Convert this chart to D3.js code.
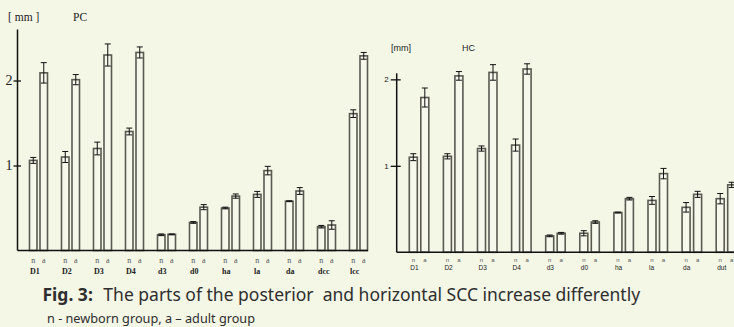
<!DOCTYPE html>
<html>
<head>
<meta charset="utf-8">
<script src="https://cdn.jsdelivr.net/npm/d3@7"></script>
<style>
  html, body { margin: 0; padding: 0; background: #f4f6e6; }
  svg { display: block; }
</style>
</head>
<body>
<div id="chart"></div>
<script>
// PC (posterior canal) values, mm
const pcGroups = ["D1", "D2", "D3", "D4", "d3", "d0", "ha", "la", "da", "dcc", "lcc"];
const pcNewborn = [1.06, 1.10, 1.20, 1.40, 0.185, 0.33, 0.50, 0.66, 0.58, 0.28, 1.61];
const pcNewbornErr = [0.035, 0.065, 0.075, 0.04, 0.01, 0.01, 0.01, 0.035, 0.005, 0.015, 0.045];
const pcAdult = [2.09, 2.01, 2.30, 2.33, 0.19, 0.51, 0.64, 0.94, 0.70, 0.30, 2.29];
const pcAdultErr = [0.12, 0.06, 0.13, 0.065, 0.005, 0.03, 0.025, 0.05, 0.04, 0.05, 0.04];

// HC (horizontal canal) values, mm
const hcGroups = ["D1", "D2", "D3", "D4", "d3", "d0", "ha", "la", "da", "dut"];
const hcNewborn = [1.10, 1.11, 1.20, 1.24, 0.19, 0.22, 0.46, 0.60, 0.52, 0.62];
const hcNewbornErr = [0.04, 0.03, 0.03, 0.07, 0.01, 0.03, 0.005, 0.045, 0.055, 0.06];
const hcAdult = [1.79, 2.04, 2.08, 2.12, 0.22, 0.35, 0.62, 0.91, 0.67, 0.78];
const hcAdultErr = [0.11, 0.05, 0.09, 0.06, 0.01, 0.015, 0.015, 0.06, 0.035, 0.03];

const yTicks = [1, 2];
const subLabels = ["n", "a"];

const W = 734, H = 327;
const svg = d3.select("#chart").append("svg").attr("width", W).attr("height", H);

function drawPanel(cfg) {
  const g = svg.append("g");
  const x = d3.scaleBand().domain(cfg.groups).range(cfg.xRange).paddingInner(0).paddingOuter(0);
  const y = d3.scaleLinear().domain(cfg.yDomain).range(cfg.yRange);

  const rows = cfg.groups.map((k, i) => ({
    k,
    n: cfg.n[i], nErr: cfg.nErr[i],
    a: cfg.a[i], aErr: cfg.aErr[i]
  }));

  // bars
  const bars = [];
  rows.forEach(r => {
    bars.push({ k: r.k, v: r.n, e: r.nErr, off: cfg.nOff });
    bars.push({ k: r.k, v: r.a, e: r.aErr, off: cfg.aOff });
  });

  g.selectAll("rect.bar").data(bars).join("rect")
    .attr("class", "bar")
    .attr("x", d => x(d.k) + d.off)
    .attr("y", d => y(d.v))
    .attr("width", cfg.barW)
    .attr("height", d => y(0) - y(d.v))
    .attr("fill", "#f7f8ec")
    .attr("stroke", "#5a5a52")
    .attr("stroke-width", 1.6);

  // error bars
  const eb = g.selectAll("g.err").data(bars).join("g").attr("class", "err")
    .attr("stroke", "#111").attr("stroke-width", 1);
  eb.append("line")
    .attr("x1", d => x(d.k) + d.off + cfg.barW / 2)
    .attr("x2", d => x(d.k) + d.off + cfg.barW / 2)
    .attr("y1", d => y(d.v + d.e))
    .attr("y2", d => y(d.v - d.e));
  [1, -1].forEach(s => {
    eb.append("line")
      .attr("x1", d => x(d.k) + d.off + cfg.barW / 2 - 3)
      .attr("x2", d => x(d.k) + d.off + cfg.barW / 2 + 3)
      .attr("y1", d => y(d.v + s * d.e))
      .attr("y2", d => y(d.v + s * d.e));
  });

  // baseline
  g.append("line")
    .attr("x1", cfg.axisX).attr("x2", cfg.baseEnd)
    .attr("y1", y(0)).attr("y2", y(0))
    .attr("stroke", "#111").attr("stroke-width", 1.5);

  // y axis
  const yAxis = d3.axisLeft(y).tickValues(yTicks).tickSize(0).tickFormat(d3.format("d"));
  const ya = g.append("g")
    .attr("transform", "translate(" + cfg.axisX + ",0)")
    .call(yAxis)
    .attr("font-family", null).attr("font-size", null);
  ya.select(".domain").remove();
  ya.append("line")
    .attr("x1", 0).attr("x2", 0)
    .attr("y1", y(0)).attr("y2", y(cfg.yDomain[1]))
    .attr("stroke", "#111").attr("stroke-width", 1.5);
  ya.selectAll(".tick line")
    .attr("x1", -cfg.tickL).attr("x2", cfg.tickR)
    .attr("stroke", "#111").attr("stroke-width", 1.3);
  ya.selectAll(".tick text")
    .attr("x", -cfg.tickLabelGap)
    .attr("fill", "#222")
    .attr("font-family", cfg.tickFont)
    .attr("font-size", cfg.tickSize);

  // sub labels n / a
  const sub = g.append("g");
  rows.forEach(r => {
    [cfg.nOff, cfg.aOff].forEach((off, j) => {
      sub.append("text")
        .attr("x", x(r.k) + off + cfg.barW / 2)
        .attr("y", cfg.subY)
        .attr("text-anchor", "middle")
        .attr("fill", "#555")
        .attr("font-family", cfg.labelFont)
        .attr("font-size", cfg.subSize)
        .text(subLabels[j]);
    });
  });

  g.append("g").selectAll("text").data(cfg.groups).join("text")
    .attr("x", d => x(d) + cfg.nOff + cfg.groupDx)
    .attr("y", cfg.groupY)
    .attr("fill", "#222")
    .attr("font-family", cfg.labelFont)
    .attr("font-weight", cfg.groupWeight)
    .attr("font-size", cfg.groupSize)
    .text(d => d);

  // unit & title
  g.append("text").attr("x", cfg.unitX).attr("y", cfg.titleY)
    .attr("fill", "#222")
    .attr("font-family", cfg.tickFont).attr("font-size", cfg.titleSize)
    .text(cfg.unit);
  g.append("text").attr("x", cfg.titleX).attr("y", cfg.titleY)
    .attr("fill", "#222")
    .attr("font-family", cfg.tickFont).attr("font-size", cfg.titleSize)
    .text(cfg.title);
}

drawPanel({
  groups: pcGroups, n: pcNewborn, nErr: pcNewbornErr, a: pcAdult, aErr: pcAdultErr,
  xRange: [24, 24 + 11 * 32], yDomain: [0, 2.6], yRange: [250.5, 29.5],
  nOff: 5.5, aOff: 16, barW: 7.5,
  axisX: 17.5, baseEnd: 368, tickL: 4, tickR: 3.5, tickLabelGap: 5,
  tickFont: "Liberation Serif", tickSize: 14,
  labelFont: "Liberation Serif",
  subY: 263, subSize: 8, groupY: 274, groupSize: 8, groupWeight: "bold", groupDx: 0.5,
  unit: "[ mm ]", unitX: 8, title: "PC", titleX: 73, titleY: 21, titleSize: 11.5
});

drawPanel({
  groups: hcGroups, n: hcNewborn, nErr: hcNewbornErr, a: hcAdult, aErr: hcAdultErr,
  xRange: [404, 404 + 10 * 34.1], yDomain: [0, 2.07], yRange: [252.3, 73.3],
  nOff: 5.3, aOff: 16.8, barW: 8,
  axisX: 396.7, baseEnd: 734, tickL: 6, tickR: 4, tickLabelGap: 8,
  tickFont: "Liberation Sans", tickSize: 8,
  labelFont: "Liberation Sans",
  subY: 262, subSize: 6, groupY: 270, groupSize: 6.5, groupWeight: "normal", groupDx: 1,
  unit: "[mm]", unitX: 391, title: "HC", titleX: 462, titleY: 51, titleSize: 9
});

// caption
const cap = svg.append("text").attr("x", 42.5).attr("y", 301)
  .attr("fill", "#2e2e2e")
  .attr("font-family", "Noto Sans").attr("font-size", 17.5)
  .attr("xml:space", "preserve").style("white-space", "pre");
cap.append("tspan").attr("font-weight", "bold").text("Fig. 3:");
cap.append("tspan").attr("dx", 6).text(" The parts of the posterior  and horizontal SCC increase differently");
svg.append("text").attr("x", 47).attr("y", 323)
  .attr("fill", "#2e2e2e")
  .attr("font-family", "Noto Sans").attr("font-size", 12.7)
  .text("n - newborn group, a \u2013 adult group");
</script>
</body>
</html>
